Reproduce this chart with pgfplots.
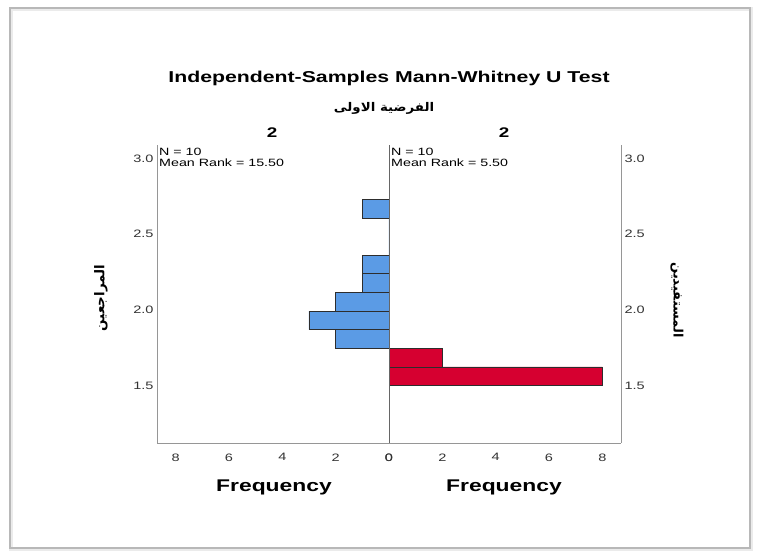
\documentclass[border=0pt]{standalone}
\usepackage{pgfplots}
\pgfplotsset{compat=1.18}
\usepackage{fontspec}
\setmainfont{Liberation Sans}[FakeStretch=1.35]
\newfontfamily\arabicfont[Script=Arabic,FakeStretch=1.12]{DejaVu Sans}
\newfontfamily\arabicrot[Script=Arabic]{DejaVu Sans}
\TeXXeTstate=1
\definecolor{sblue}{RGB}{91,155,229}
\definecolor{sred}{RGB}{214,0,48}
\definecolor{edge}{RGB}{45,45,45}
\definecolor{axg}{RGB}{150,150,150}
\pgfplotsset{
  panel/.style={
    scale only axis, width=232bp, height=298bp,
    ymin=1.12, ymax=3.09, xmin=0, xmax=8.7,
    xtick={0,2,4,6,8}, ytick={1.5,2,2.5,3},
    yticklabel style={/pgf/number format/.cd, fixed, fixed zerofill, precision=1},
    xticklabel style={yshift=-7bp},
    major tick length=0pt,
    tick label style={font=\fontsize{10.8}{12}\selectfont, text=black!80},
    /pgf/number format/assume math mode=true,
    axis line style={axg, line width=0.9bp},
    clip=false,
  }
}
\begin{document}
\begin{tikzpicture}[x=1bp,y=1bp]
\fill[white] (0,0) rectangle (761,554);
\draw[black!8, line width=4bp] (11,5) rectangle (751,545);
\draw[black!28, line width=1.2bp] (10,6) rectangle (750,546);

\begin{axis}[panel, at={(157bp,111bp)}, anchor=south west, x dir=reverse,
  axis x line*=bottom, axis y line*=left]
\addplot[xbar interval, fill=sblue, draw=edge, line width=0.8bp]
  coordinates {(2,1.746) (3,1.869) (2,1.992) (1,2.115) (1,2.238) (0,2.361) (0,2.484) (1,2.607) (0,2.73)};
\end{axis}

\begin{axis}[panel, at={(389bp,111bp)}, anchor=south west,
  axis x line*=bottom, axis y line*=right]
\addplot[xbar interval, fill=sred, draw=edge, line width=0.8bp]
  coordinates {(8,1.5) (2,1.623) (0,1.746)};
\end{axis}

\draw[black!60, line width=1bp] (389,111) -- (389,409);

\node[anchor=center, font=\fontsize{15.8}{18}\selectfont\bfseries] at (389,476) {Independent-Samples Mann-Whitney U Test};
\node[anchor=center, font=\fontsize{12}{14}\selectfont\arabicfont\bfseries] at (384,446) {\beginR الفرضية الاولى\endR};
\node[anchor=center, font=\fontsize{14}{16}\selectfont\bfseries] at (272,421) {2};
\node[anchor=center, font=\fontsize{14}{16}\selectfont\bfseries] at (504,421) {2};

\node[anchor=north west, inner sep=0pt, align=left, font=\fontsize{10.6}{10.8}\selectfont] at (159,406) {N = 10\\Mean Rank = 15.50};
\node[anchor=north west, inner sep=0pt, align=left, font=\fontsize{10.6}{10.8}\selectfont] at (391,406) {N = 10\\Mean Rank = 5.50};

\node[anchor=base, font=\fontsize{17}{19}\selectfont\bfseries] at (274,62) {Frequency};
\node[anchor=base, font=\fontsize{17}{19}\selectfont\bfseries] at (504,62) {Frequency};

\node[rotate=90, anchor=center, font=\fontsize{13.5}{16}\selectfont\arabicrot\bfseries] at (101,256) {\beginR المراجعين\endR};
\node[rotate=-90, anchor=center, font=\fontsize{13}{16}\selectfont\arabicrot\bfseries] at (677,254) {\beginR المستفيدين\endR};
\end{tikzpicture}
\end{document}
